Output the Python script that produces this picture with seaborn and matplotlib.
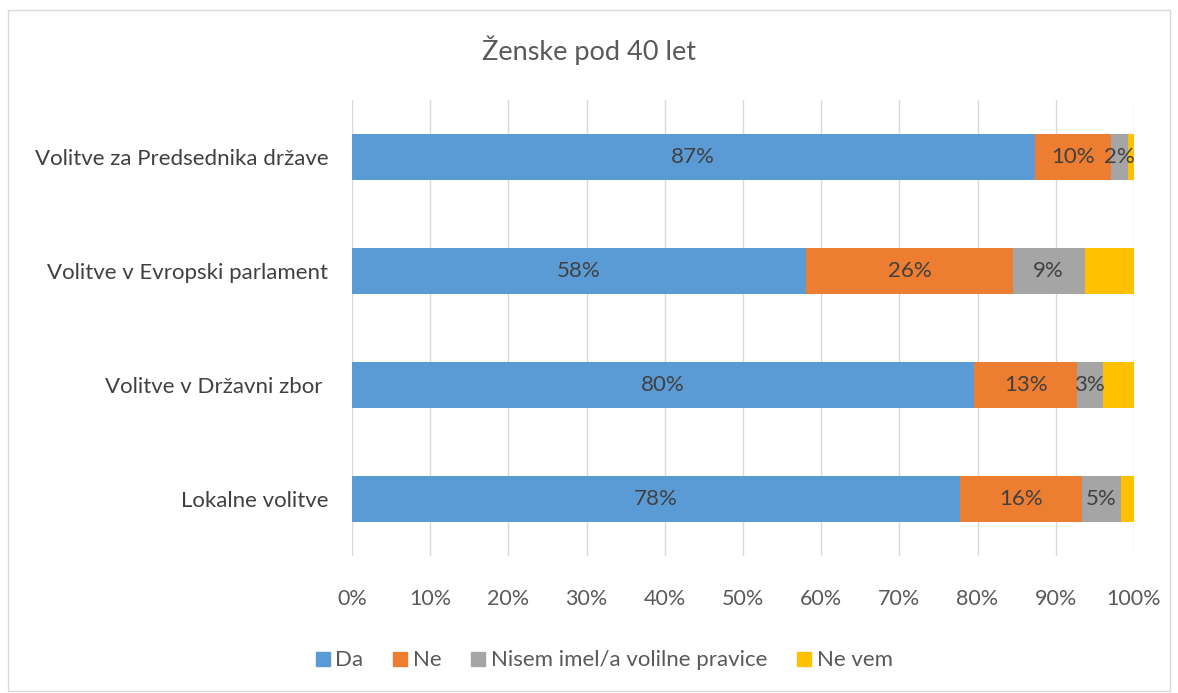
import matplotlib
matplotlib.use("Agg")
import matplotlib.pyplot as plt
import seaborn as sns
import pandas as pd
from matplotlib.patches import Rectangle
from matplotlib.lines import Line2D

# Podatki (odstotki)
kategorije = [
    "Volitve za Predsednika države",
    "Volitve v Evropski parlament",
    "Volitve v Državni zbor ",
    "Lokalne volitve",
]
da = [87.3, 58.1, 79.6, 77.8]
ne = [9.8, 26.4, 13.1, 15.6]
nisem = [2.1, 9.2, 3.3, 4.9]
ne_vem = [0.8, 6.3, 4.0, 1.7]

serije = ["Da", "Ne", "Nisem imel/a volilne pravice", "Ne vem"]
barve = ["#5B9BD5", "#ED7D31", "#A5A5A5", "#FFC000"]
oznake = [True, True, True, False]

sns.set_style("white")
plt.rcParams["font.family"] = ["Lato", "DejaVu Sans"]

df = pd.DataFrame({"kategorija": kategorije, "Da": da, "Ne": ne,
                   "Nisem imel/a volilne pravice": nisem, "Ne vem": ne_vem})

fig = plt.figure(figsize=(11.78, 6.93), dpi=100)
ax = fig.add_axes([0.2988, 0.1977, 0.6638, 0.658])

# Kumulativne vsote - risanje od najdaljše do najkrajše
kum = df[serije].cumsum(axis=1)
for s, c in reversed(list(zip(serije, barve))):
    sns.barplot(x=kum[s], y=df["kategorija"], color=c, orient="h",
                width=0.4, ax=ax, saturation=1, linewidth=0)

# Oznake vrednosti
for i in range(len(kategorije)):
    levo = 0
    for s, pokazi in zip(serije, oznake):
        v = df[s][i]
        if pokazi:
            ax.text(levo + v / 2, i, f"{round(v):.0f}%", ha="center", va="center",
                    fontsize=16, color="#404040")
        levo += v

ax.set_xlim(0, 100)
ax.set_ylim(3.5, -0.5)
ax.set_xticks(range(0, 101, 10))
ax.set_xticklabels([f"{t}%" for t in range(0, 101, 10)])
ax.xaxis.grid(True, color="#D9D9D9", linewidth=1)
ax.set_axisbelow(True)
for sp in ax.spines.values():
    sp.set_visible(False)
ax.tick_params(axis="x", length=0, pad=24, labelsize=15.5, labelcolor="#595959")
ax.tick_params(axis="y", length=0, pad=17, labelsize=16, labelcolor="#404040")
ax.set_xlabel("")
ax.set_ylabel("")

fig.text(0.5, 0.927, "Ženske pod 40 let", ha="center", va="center",
         fontsize=19.5, color="#595959")

leg_h = [Line2D([], [], marker="s", linestyle="", markersize=9.5,
                markerfacecolor=c, markeredgecolor=c) for c in barve]
fig.legend(leg_h, serije, loc="center", bbox_to_anchor=(0.513, 0.047), ncol=4,
           frameon=False, fontsize=16, handlelength=0.6, handletextpad=0.27,
           columnspacing=1.35, labelcolor="#595959")

fig.patches.append(Rectangle((0.007, 0.003), 0.986, 0.983, transform=fig.transFigure,
                             fill=False, edgecolor="#D9D9D9", linewidth=1))

fig.savefig("out.png", dpi=100)
